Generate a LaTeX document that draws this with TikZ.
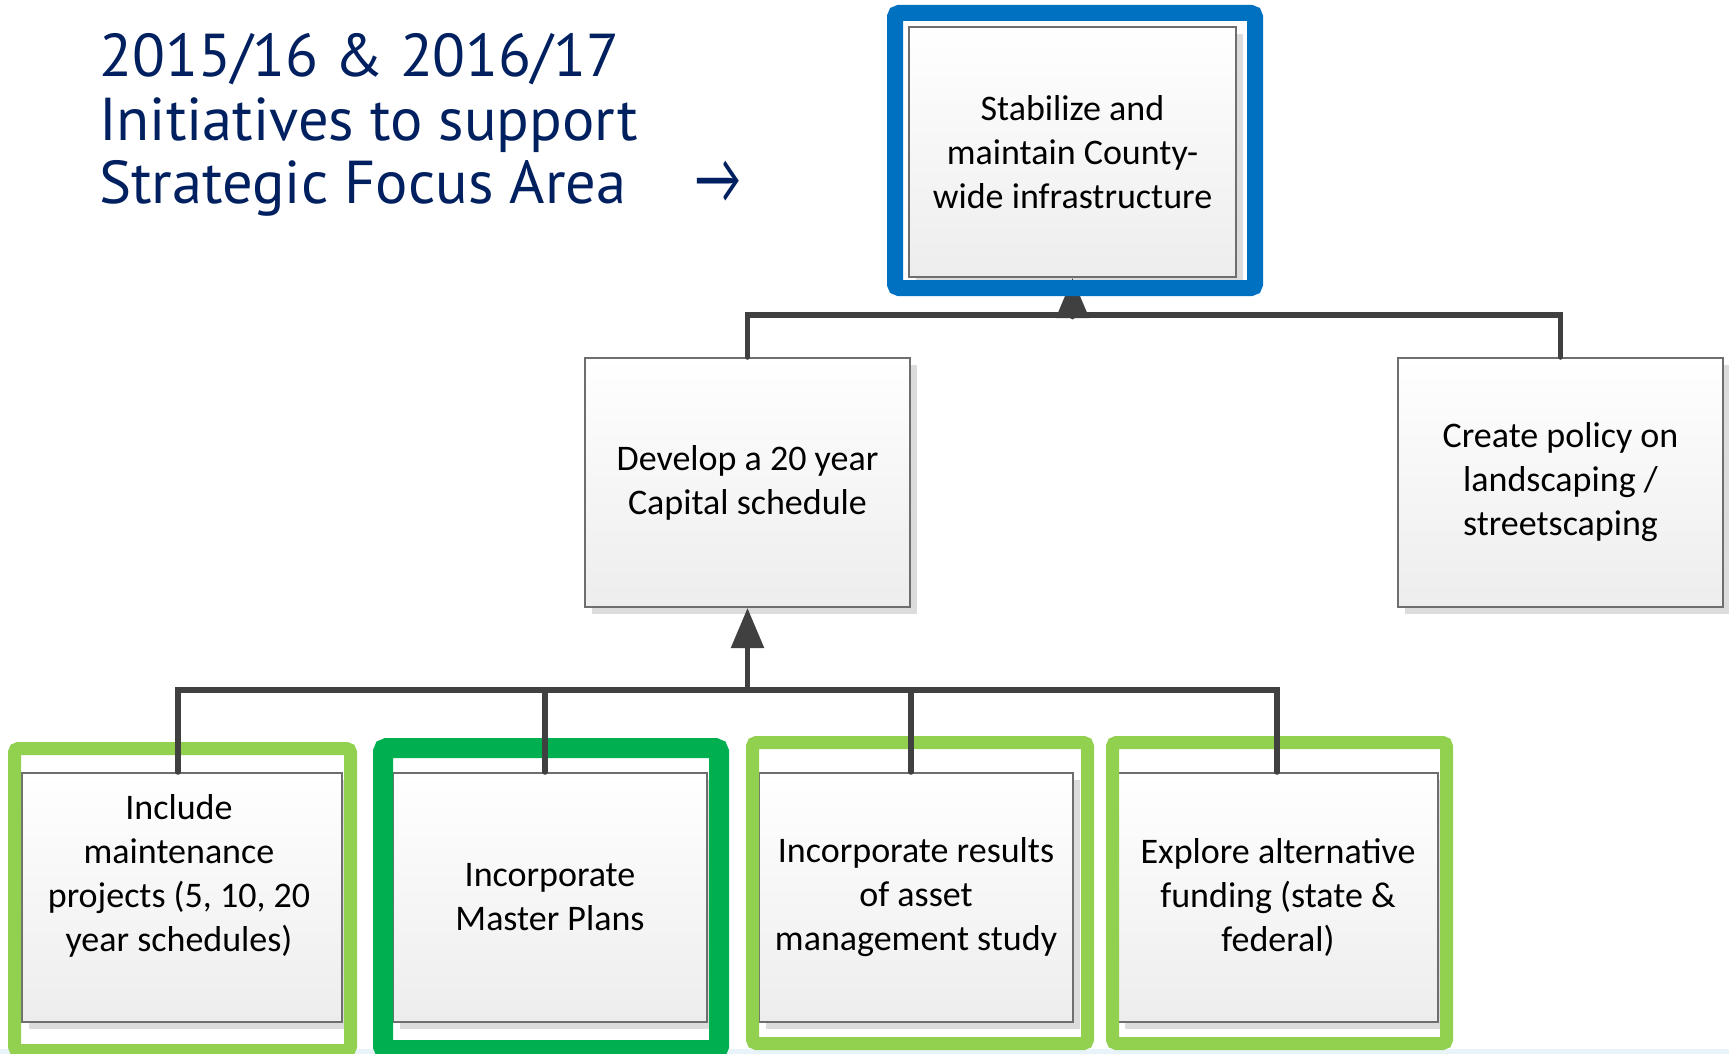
\documentclass[tikz,border=0pt]{standalone}
\usepackage{fontspec}
\setmainfont{Carlito}
\newfontfamily\titlefont{PT Sans}
\newfontfamily\symfont{Carlito}
\usetikzlibrary{arrows.meta,shadows}
\definecolor{navy}{HTML}{002060}
\definecolor{fblue}{HTML}{0070C0}
\definecolor{lgreen}{HTML}{92D050}
\definecolor{dgreen}{HTML}{00B050}
\definecolor{conncol}{HTML}{404040}
\definecolor{boxedge}{HTML}{6E6E6E}
\definecolor{shadowgray}{HTML}{DCDCDC}
\definecolor{boxbot}{HTML}{EDEDED}
\definecolor{stripcol}{HTML}{E8F3FA}
\begin{document}
\begin{tikzpicture}[x=1pt,y=-1pt,
  box/.style={draw=boxedge, line width=2pt, top color=white, bottom color=boxbot,
    drop shadow={shadow xshift=7pt, shadow yshift=-7pt, fill=shadowgray, opacity=1},
    align=center, font=\fontsize{36}{44}\selectfont, text=black, inner sep=0pt,
    minimum height=249pt},
  boxtxt/.style={align=center, font=\fontsize{36}{44}\selectfont, text=black, inner sep=0pt},
  frame/.style={rounded corners=4pt},
  conn/.style={draw=conncol, line width=5.5pt, line cap=round},
  arr/.style={conn, -{Triangle[width=32pt,length=40pt]}},
  titletxt/.style={font=\titlefont\fontsize{60.5}{63}\selectfont, text=navy, inner sep=0pt, anchor=base west}
]
\useasboundingbox (0,0) rectangle (1729,1054);
\clip (0,0) rectangle (1729,1054);
\fill[white] (0,0) rectangle (1729,1054);
\fill[stripcol] (0,1049) rectangle (1729,1054);

% title
\node[titletxt] (title1) at (99,77) {2015/16 \& 2016/17};
\node[titletxt] (title2) at (99,140) {Initiatives to support};
\node[titletxt] (title3) at (99,203) {Strategic Focus Area};
\node[text=navy, font=\symfont\fontsize{66}{66}\selectfont, inner sep=0pt] (tarrow) at (718,182) {\scalebox{0.76}[1.12]{→}};

% boxes
\node[box, minimum width=327pt, minimum height=250pt] (top) at (1072.5,152) {Stabilize and\\maintain County-\\wide infrastructure};
\node[box, minimum width=325pt] (dev) at (747.5,482.5) {Develop a 20 year\\Capital schedule};
\node[box, minimum width=325pt] (right) at (1560.5,482.5) {Create policy on\\landscaping /\\streetscaping};
\node[box, minimum width=320pt] (b1) at (182,897.5) {};
\node[boxtxt] (t1) at ([xshift=-3pt,yshift=22pt]b1.center) {Include\\maintenance\\projects (5, 10, 20\\year schedules)};
\node[box, minimum width=314pt] (b2) at (550,897.5) {Incorporate\\Master Plans};
\node[box, minimum width=314pt] (b3) at (916,897.5) {Incorporate results\\of asset\\management study};
\node[box, minimum width=320pt] (b4) at (1278,897.5) {Explore alternative\\funding (state \&\\federal)};

% bottom frames
\draw[frame, draw=lgreen, line width=13pt] (14.5,748.5) rectangle (350.5,1050.5);
\draw[frame, draw=dgreen, line width=20pt] (383,748) rectangle (719,1050);
\draw[frame, draw=lgreen, line width=13pt] (752.5,742.5) rectangle (1087.5,1043.5);
\draw[frame, draw=lgreen, line width=13pt] (1112.5,742.5) rectangle (1446.5,1043.5);

% connectors
\coordinate (barB) at (747.5,690);
\coordinate (barT) at (1072.5,315);
\coordinate (c1) at ([xshift=-4pt]b1.north);
\coordinate (c2) at ([xshift=-5pt]b2.north);
\coordinate (c3) at ([xshift=-5pt]b3.north);
\coordinate (c4) at ([xshift=-1pt]b4.north);
\draw[conn] (c1) |- (barB) -| (c4);
\draw[conn] (c2) -- (c2 |- barB);
\draw[conn] (c3) -- (c3 |- barB);
\draw[arr] (barB) -- (dev.south);
\draw[conn] (dev.north) |- (barT) -| (right.north);
\draw[arr] (barT) -- (top.south);

% top frame
\draw[frame, draw=fblue, line width=16pt] (895,13) rectangle (1255,288);
\end{tikzpicture}
\end{document}
